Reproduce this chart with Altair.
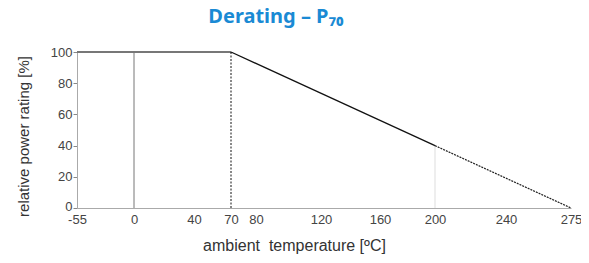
import altair as alt
import pandas as pd

# Data
curve_temp = [-55, 70, 200, 275]
curve_rating = [100, 100, 40, 0]
x_ticks = [-55, 0, 40, 70, 80, 120, 160, 200, 240, 275]
x_tick_px = [0, 57, 117, 154, 179, 244, 303, 358, 429, 494]
y_ticks = [0, 20, 40, 60, 80, 100]
vlines_temp = [0, 70, 200]
vlines_top = [100, 100, 40]

flat = pd.DataFrame({"t": curve_temp[0:2], "r": curve_rating[0:2]})
slope = pd.DataFrame({"t": curve_temp[1:3], "r": curve_rating[1:3]})
tail = pd.DataFrame({"t": curve_temp[2:4], "r": curve_rating[2:4]})
vl = pd.DataFrame({"t": vlines_temp, "top": vlines_top, "bottom": [0, 0, 0]})

FONT = "Liberation Sans"

xscale = alt.Scale(domain=x_ticks, range=x_tick_px)
yscale = alt.Scale(domain=[0, 100], nice=False)

xaxis = alt.Axis(values=x_ticks, title="ambient\u00a0 temperature [ºC]", grid=False,
                 ticks=False, labelPadding=5, labelFontSize=13, labelColor="#444",
                 labelFont=FONT, domainColor="#aaa", labelFlush=False, labelOverlap=False,
                 labelExpr="'' + datum.value",
                 titleFont=FONT, titleFontSize=16, titleFontWeight="normal",
                 titleColor="#333", titleX=217, titleY=37, titleBaseline="middle")
yaxis = alt.Axis(values=y_ticks, title="relative power rating [%]", grid=False,
                 tickSize=4, tickColor="#888", labelPadding=1, labelFontSize=13,
                 labelColor="#444", labelFont=FONT, domainColor="#aaa",
                 labelFlush=False, labelOverlap=False,
                 labelOffset={"condition": {"test": "datum.value === 0", "value": -2}, "value": 0},
                 titleFont=FONT, titleFontSize=15, titleFontWeight="normal",
                 titleColor="#333", titleX=-54, titleY=84, titleAngle=-90,
                 titleAlign="center", titleBaseline="middle")

x = alt.X("t:Q", scale=xscale, axis=xaxis)
y = alt.Y("r:Q", scale=yscale, axis=yaxis)
yb = alt.Y("bottom:Q", scale=yscale, axis=yaxis)

l_flat = alt.Chart(flat).mark_line(color="#777", strokeWidth=2).encode(x=x, y=y)
l_slope = alt.Chart(slope).mark_line(color="#111", strokeWidth=1.3).encode(x=x, y=y)
l_tail = alt.Chart(tail).mark_line(color="#222", strokeWidth=1.2, strokeDash=[2, 1]).encode(x=x, y=y)

v0 = alt.Chart(vl.iloc[[0]]).mark_rule(color="#777", strokeWidth=1).encode(
    x=x, y=yb, y2="top:Q")
v70 = alt.Chart(vl.iloc[[1]]).mark_rule(color="#111", strokeWidth=1, strokeDash=[2, 1.5]).encode(
    x=x, y=yb, y2="top:Q")
v200 = alt.Chart(vl.iloc[[2]]).mark_rule(color="#ddd", strokeWidth=1).encode(
    x=x, y=yb, y2="top:Q")

chart = alt.layer(l_flat, v0, v70, v200, l_slope, l_tail).properties(
    width=494, height=156,
    title=alt.TitleParams("Derating – P₇₀", font="Noto Sans", fontSize=20,
                          fontWeight="bold", color="#1a8ad4", anchor="middle",
                          frame="group", dx=-48, offset=19),
    autosize=alt.AutoSizeParams(type="none"),
    padding={"left": 69, "top": 44, "right": 10, "bottom": 47},
).configure_view(stroke=None)

chart.save("out.html", embed_options={"renderer": "svg", "actions": False})
